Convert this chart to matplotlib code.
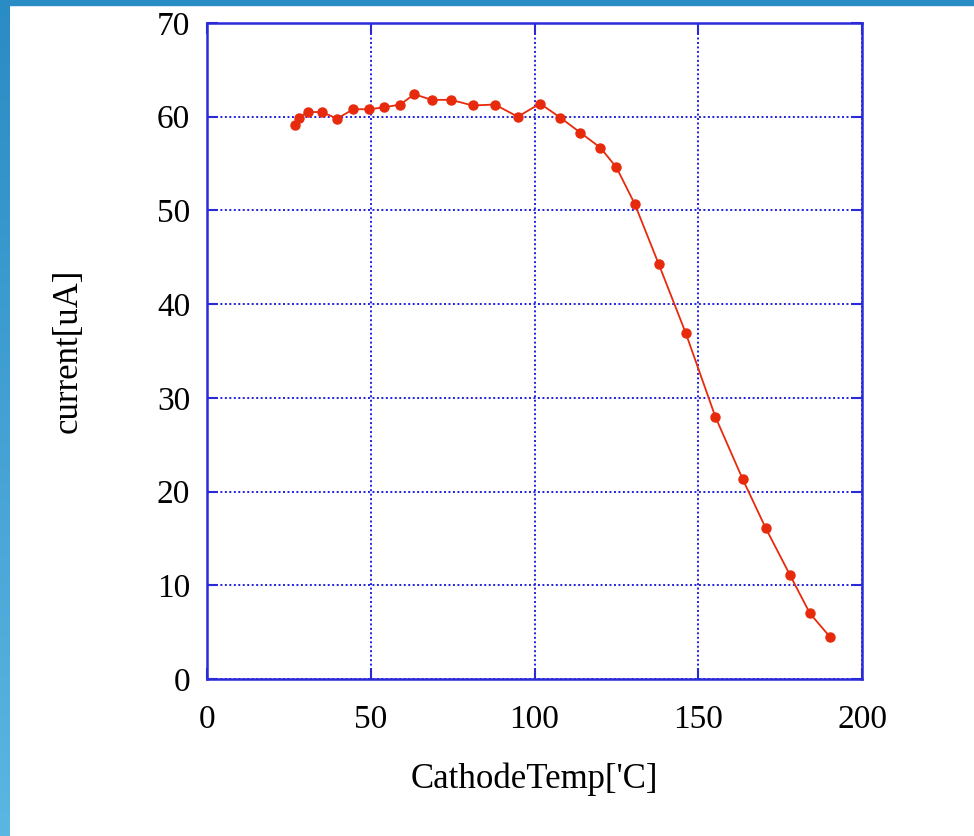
import matplotlib
matplotlib.use("Agg")
import matplotlib.pyplot as plt
import numpy as np
from matplotlib.patches import Rectangle

# cathode temperature ['C] vs emission current [uA]
temp = [26.9, 28.0, 30.8, 35.1, 39.7, 44.7, 49.6, 54.1, 59.0, 63.3, 68.6, 74.5, 81.1,
        87.9, 94.9, 101.7, 107.9, 114.0, 120.1, 125.0, 130.6, 137.9, 146.2, 155.2,
        163.6, 170.6, 178.0, 184.1, 190.2]
current = [59.1, 59.9, 60.5, 60.5, 59.8, 60.8, 60.8, 61.0, 61.3, 62.4, 61.8, 61.8, 61.2,
           61.3, 60.0, 61.4, 59.9, 58.3, 56.7, 54.6, 50.7, 44.3, 36.9, 28.0,
           21.3, 16.1, 11.1, 7.0, 4.5]

xticks = [0, 50, 100, 150, 200]
yticks = [0, 10, 20, 30, 40, 50, 60, 70]

plt.rcParams['font.family'] = ['Liberation Serif', 'DejaVu Serif']

blue = '#2a2ad8'
fig = plt.figure(figsize=(9.74, 8.36), dpi=100)

# slide background: top band and left gradient strip
fig.patches.append(Rectangle((0, 1 - 5 / 836), 1, 5 / 836, transform=fig.transFigure,
                             color='#2a8cc4', zorder=0))
strip = fig.add_axes([0, 0, 10 / 974, 1])
grad = np.linspace(0, 1, 256).reshape(-1, 1)
strip.imshow(grad, aspect='auto', cmap=matplotlib.colors.LinearSegmentedColormap.from_list(
    'band', ['#2a8cc4', '#5cb6e2']), extent=[0, 1, 0, 1])
strip.axis('off')

ax = fig.add_axes([207 / 974, 1 - 679 / 836, 655 / 974, 656 / 836])
ax.plot(temp, current, color='#e82a0c', lw=1.3, marker='o', ms=6.5, mec='#e82a0c',
        mfc='#e82a0c', zorder=3)

ax.set_xlim(0, 200)
ax.set_ylim(0, 70)
ax.set_xticks(xticks)
ax.set_yticks(yticks)
ax.grid(True, color='#2020e0', ls=(0, (1, 1.3)), lw=1.4)
for s in ax.spines.values():
    s.set_color(blue)
    s.set_linewidth(1.8)
ax.tick_params(direction='in', length=8, width=1.5, color=blue, top=True, right=True,
               labelsize=24, labelcolor='black')
ax.tick_params(axis='x', pad=18)
ax.tick_params(axis='y', pad=12)

ax.set_xlabel("CathodeTemp['C]", fontsize=25, labelpad=20)
ax.set_ylabel("current[uA]", fontsize=25, labelpad=52)

fig.savefig('out.png', dpi=100)
